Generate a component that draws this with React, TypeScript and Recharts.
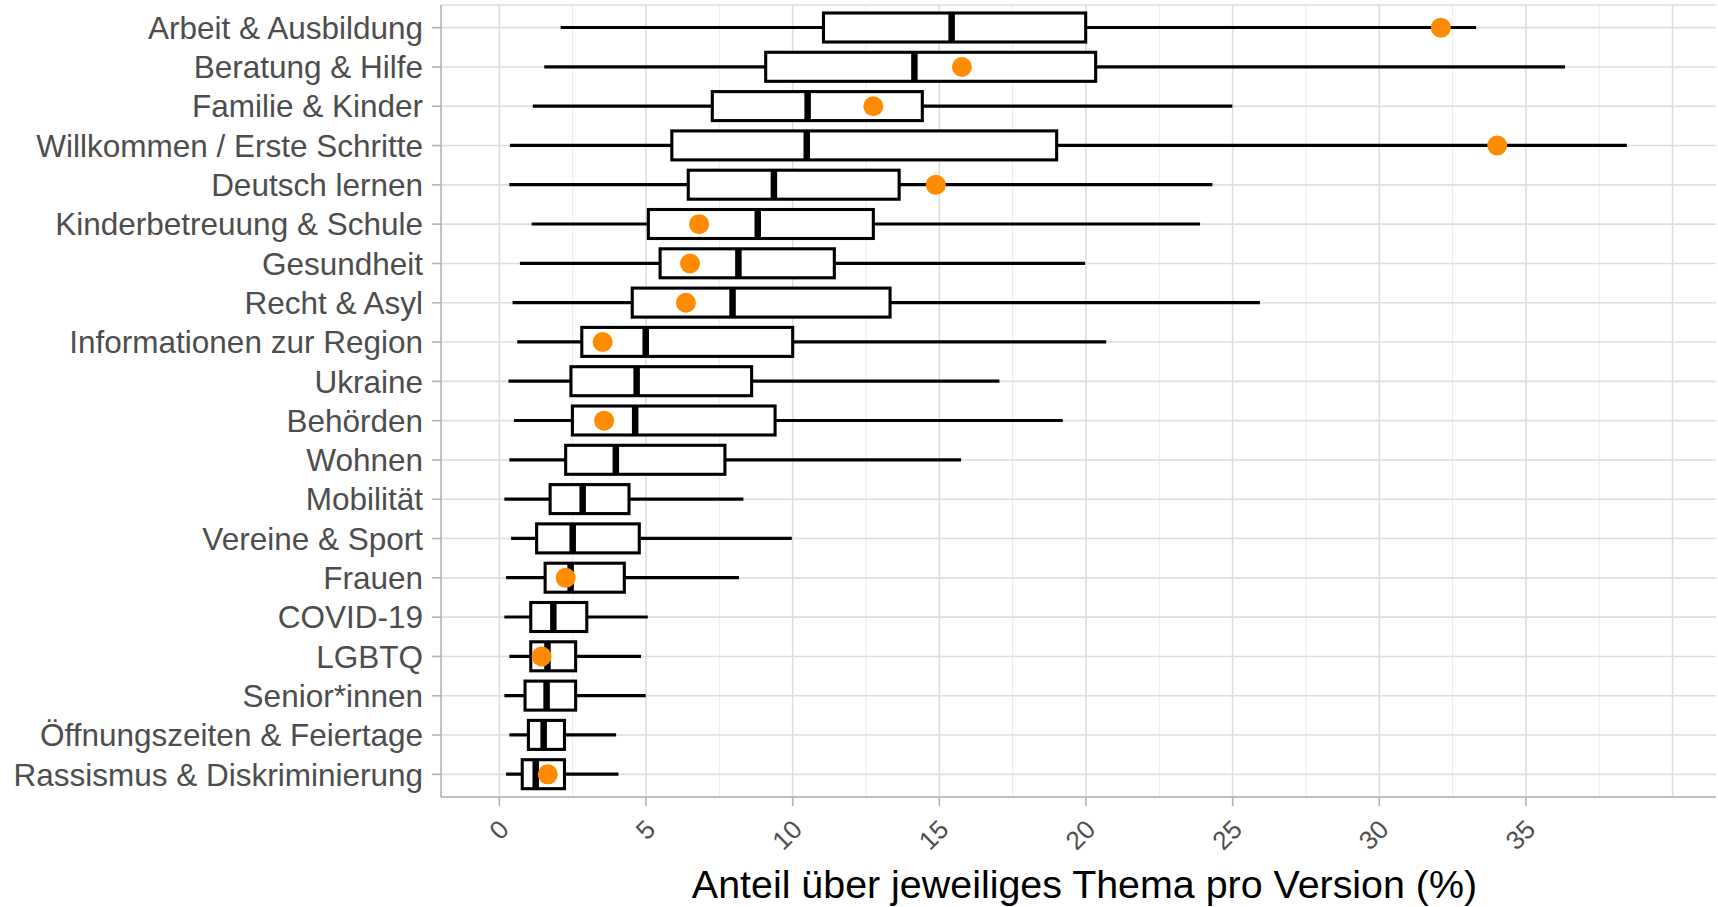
import React from 'react';
import { ComposedChart, Bar, Scatter, XAxis, YAxis, CartesianGrid, Label } from 'recharts';

const categories = [
  'Arbeit & Ausbildung',
  'Beratung & Hilfe',
  'Familie & Kinder',
  'Willkommen / Erste Schritte',
  'Deutsch lernen',
  'Kinderbetreuung & Schule',
  'Gesundheit',
  'Recht & Asyl',
  'Informationen zur Region',
  'Ukraine',
  'Behörden',
  'Wohnen',
  'Mobilität',
  'Vereine & Sport',
  'Frauen',
  'COVID-19',
  'LGBTQ',
  'Senior*innen',
  'Öffnungszeiten & Feiertage',
  'Rassismus & Diskriminierung',
];

const whiskerLow = [2.09, 1.53, 1.14, 0.36, 0.34, 1.1, 0.7, 0.45, 0.61, 0.31, 0.5, 0.34, 0.17, 0.4, 0.23, 0.17, 0.34, 0.17, 0.34, 0.23];
const q1 = [11.05, 9.08, 7.26, 5.88, 6.44, 5.08, 5.48, 4.53, 2.81, 2.44, 2.49, 2.26, 1.73, 1.27, 1.56, 1.07, 1.07, 0.875, 0.99, 0.78];
const median = [15.42, 14.15, 10.51, 10.48, 9.36, 8.81, 8.15, 7.95, 4.99, 4.68, 4.63, 3.97, 2.84, 2.5, 2.43, 1.84, 1.64, 1.61, 1.51, 1.24];
const q3 = [19.99, 20.33, 14.42, 19.0, 13.63, 12.75, 11.42, 13.32, 10.0, 8.6, 9.4, 7.69, 4.42, 4.77, 4.26, 2.98, 2.6, 2.6, 2.22, 2.22];
const whiskerHigh = [33.3, 36.33, 24.99, 38.44, 24.31, 23.89, 19.97, 25.93, 20.69, 17.05, 19.21, 15.74, 8.32, 9.97, 8.17, 5.06, 4.83, 4.99, 3.98, 4.06];
const highlight = [32.1, 15.77, 12.75, 34.02, 14.88, 6.81, 6.5, 6.36, 3.52, null, 3.57, null, null, null, 2.26, null, 1.44, null, null, 1.65];

const xTicks = [0, 5, 10, 15, 20, 25, 30, 35];
const majorGrid = [0, 5, 10, 15, 20, 25, 30, 35, 40];
const minorGrid = [2.5, 7.5, 12.5, 17.5, 22.5, 27.5, 32.5, 37.5];
const xDomain: [number, number] = [-1.99, 41.48];
const xTitle = 'Anteil über jeweiliges Thema pro Version (%)';

const data = categories.map((name, i) => ({
  name,
  whisker: [whiskerLow[i], whiskerHigh[i]],
  box: [q1[i], q3[i]],
  median: median[i],
  point: highlight[i],
}));

const BOX = 29;
const FONT = 'Liberation Sans, Arial, Helvetica, sans-serif';

const WhiskerShape = (p: any) => {
  if (p.x == null || p.width == null) return null;
  const cy = p.y + p.height / 2;
  return <line x1={p.x} x2={p.x + p.width} y1={cy} y2={cy} stroke="#000" strokeWidth={3.2} />;
};

const BoxShape = (p: any) => {
  if (p.x == null || p.width == null) return null;
  return <rect x={p.x} y={p.y} width={p.width} height={p.height} fill="#fff" stroke="#000" strokeWidth={3.1} />;
};

const MedianShape = (p: any) => {
  if (p.cx == null || p.cy == null) return null;
  return <line x1={p.cx} x2={p.cx} y1={p.cy - BOX / 2} y2={p.cy + BOX / 2} stroke="#000" strokeWidth={6.5} />;
};

const PointShape = (p: any) => {
  if (!p.payload || p.payload.point == null || p.cx == null) return null;
  return <circle cx={p.cx} cy={p.cy} r={10} fill="#FF8C00" />;
};

const XTick = (props: any) => {
  const { x, y, payload } = props;
  const ax = x + 11;
  const ay = y + 23;
  return (
    <text x={ax} y={ay} transform={`rotate(-45 ${ax} ${ay})`} textAnchor="end" fontSize={26} fill="#4D4D4D" fontFamily={FONT}>
      {payload.value}
    </text>
  );
};

const renderTitle = (props: any) => {
  const vb = props.viewBox || {};
  return (
    <text x={vb.x + vb.width / 2 + 6} y={vb.y + 101} textAnchor="middle" fontSize={39.4} fill="#000" fontFamily={FONT}>
      {xTitle}
    </text>
  );
};

export default function App() {
  return (
    <div style={{ position: 'absolute', left: 0, top: 0, width: 1718, height: 907, background: '#fff', fontFamily: FONT }}>
      <ComposedChart
        width={1718}
        height={907}
        data={data}
        layout="vertical"
        margin={{ top: 5, right: 2, bottom: 0, left: 0 }}
        barGap={-BOX}
      >
        <CartesianGrid horizontal={false} verticalValues={minorGrid} stroke="#EBEBEB" strokeWidth={1} />
        <CartesianGrid verticalValues={majorGrid} stroke="#DEDEDE" strokeWidth={1.6} />
        <XAxis
          type="number"
          domain={xDomain}
          allowDataOverflow
          ticks={xTicks}
          interval={0}
          tickSize={9}
          tickMargin={2}
          height={110}
          stroke="#B3B3B3"
          strokeWidth={1.6}
          tick={<XTick />}
        >
          <Label content={renderTitle} />
        </XAxis>
        <XAxis xAxisId="top" orientation="top" type="number" domain={xDomain} allowDataOverflow height={0} tick={false} tickLine={false} stroke="#B3B3B3" strokeWidth={1.6} />
        <YAxis
          type="category"
          dataKey="name"
          width={441}
          interval={0}
          tickSize={9}
          tickMargin={9}
          padding={{ top: 3, bottom: 3 }}
          stroke="#B3B3B3"
          strokeWidth={1.6}
          tick={{ fontSize: 31.5, fill: '#4D4D4D', fontFamily: FONT }}
        />
        <YAxis yAxisId="right" orientation="right" type="number" domain={[0, 1]} width={0} tick={false} tickLine={false} stroke="#B3B3B3" strokeWidth={1.6} />
        <Bar dataKey="whisker" barSize={BOX} shape={<WhiskerShape />} isAnimationActive={false} />
        <Bar dataKey="box" barSize={BOX} shape={<BoxShape />} isAnimationActive={false} />
        <Scatter dataKey="median" shape={<MedianShape />} isAnimationActive={false} />
        <Scatter dataKey="point" shape={<PointShape />} isAnimationActive={false} />
      </ComposedChart>
    </div>
  );
}
